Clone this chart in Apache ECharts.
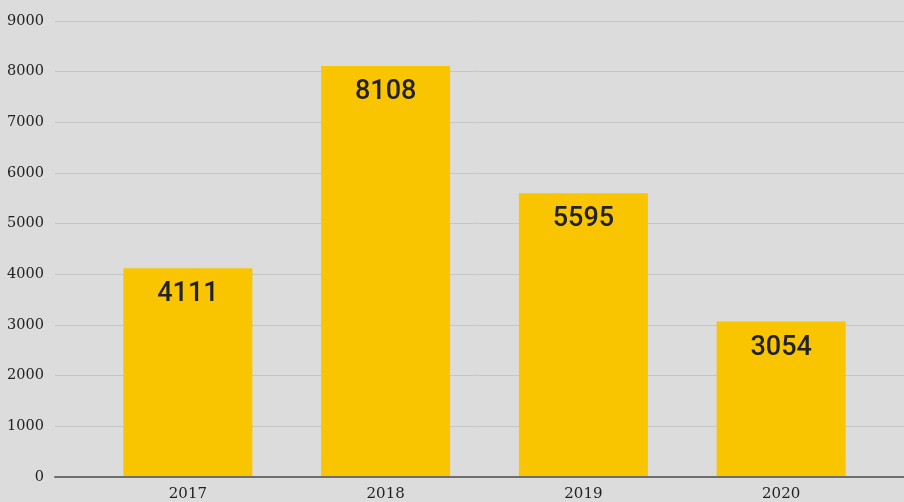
<!DOCTYPE html>
<html><head><meta charset="utf-8">
<script src="https://cdn.jsdelivr.net/npm/echarts@6/dist/echarts.min.js"></script>
<style>html,body{margin:0;padding:0;background:#dcdcdc}#c{width:904px;height:502px}</style>
</head><body><div id="c"></div>
<script>
const categories = ['2017', '2018', '2019', '2020'];
const values = [4111, 8108, 5595, 3054];
const yTicks = [0, 1000, 2000, 3000, 4000, 5000, 6000, 7000, 8000, 9000];

const chart = echarts.init(document.getElementById('c'));
chart.setOption({
  backgroundColor: '#dcdcdc',
  animation: false,
  grid: [
    {left: 55, right: 0, top: 21, bottom: 25},
    {left: 89, right: 24, top: 21, bottom: 25}
  ],
  xAxis: [
    {gridIndex: 0, type: 'value', min: 0, max: 1, show: true,
     axisLine: {show: true, lineStyle: {color: '#6e6e6e', width: 2}},
     axisTick: {show: false}, axisLabel: {show: false}, splitLine: {show: false}},
    {gridIndex: 1, type: 'category', data: categories,
     axisLine: {show: false}, axisTick: {show: false},
     axisLabel: {fontFamily: 'DejaVu Serif', fontSize: 15, color: '#222', margin: 11}}
  ],
  yAxis: [
    {gridIndex: 0, type: 'value', min: yTicks[0], max: yTicks[yTicks.length-1], interval: 1000,
     axisLine: {show: false}, axisTick: {show: false},
     axisLabel: {fontFamily: 'DejaVu Serif', fontSize: 14.5, color: '#222', margin: 11,
       formatter: v => String(v)},
     splitLine: {lineStyle: {color: '#c6c6c6', width: 1}}},
    {gridIndex: 1, type: 'value', min: 0, max: 9000, interval: 1000, show: false,
     splitLine: {show: false}}
  ],
  series: [{
    type: 'bar', xAxisIndex: 1, yAxisIndex: 1,
    data: values, barWidth: 129,
    itemStyle: {color: '#f9c400'},
    label: {show: true, position: 'insideTop', distance: 13,
      fontFamily: 'Roboto', fontWeight: 500, fontSize: 27, color: '#222'}
  }]
});
</script></body></html>
